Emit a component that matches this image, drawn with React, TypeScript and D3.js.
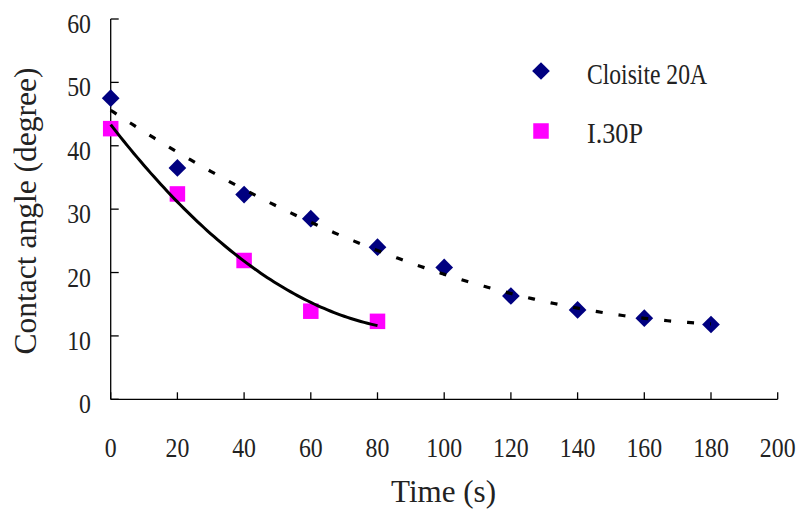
import React from "react";
import * as d3 from "d3";

// Contact angle measurements over time
const times = [0, 20, 40, 60, 80, 100, 120, 140, 160, 180];
const cloisite20A = [47.5, 36.5, 32.3, 28.5, 24.0, 20.8, 16.3, 14.1, 12.8, 11.8];
const i30pTimes = [0, 20, 40, 60, 80];
const i30P = [42.7, 32.4, 21.9, 13.9, 12.3];

const xTicks = [0, 20, 40, 60, 80, 100, 120, 140, 160, 180, 200];
const yTicks = [0, 10, 20, 30, 40, 50, 60];

const seriesNames = ["Cloisite 20A", "I.30P"];

const W = 800;
const H = 513;
const FONT = "'Liberation Serif', 'Times New Roman', serif";

// Least-squares second-order polynomial trendline
function quadFit(xs: number[], ys: number[]) {
  const n = xs.length;
  let s1 = 0, s2 = 0, s3 = 0, s4 = 0, t0 = 0, t1 = 0, t2 = 0;
  for (let i = 0; i < n; i++) {
    const x = xs[i], y = ys[i];
    s1 += x; s2 += x * x; s3 += x ** 3; s4 += x ** 4;
    t0 += y; t1 += x * y; t2 += x * x * y;
  }
  const M = [
    [n, s1, s2, t0],
    [s1, s2, s3, t1],
    [s2, s3, s4, t2],
  ];
  for (let c = 0; c < 3; c++) {
    let p = c;
    for (let r = c + 1; r < 3; r++) if (Math.abs(M[r][c]) > Math.abs(M[p][c])) p = r;
    [M[c], M[p]] = [M[p], M[c]];
    for (let r = 0; r < 3; r++) {
      if (r === c) continue;
      const f = M[r][c] / M[c][c];
      for (let k = c; k < 4; k++) M[r][k] -= f * M[c][k];
    }
  }
  const a = M[0][3] / M[0][0], b = M[1][3] / M[1][1], c = M[2][3] / M[2][2];
  return (x: number) => a + b * x + c * x * x;
}

export default function App() {
  const x = d3.scaleLinear().domain([0, 200]).range([110.7, 777.7]);
  const y = d3.scaleLinear().domain([0, 60]).range([399.3, 19]);

  const fitA = quadFit(times, cloisite20A);
  const fitB = quadFit(i30pTimes, i30P);
  const line = d3
    .line<number>()
    .x((t) => x(t))
    .curve(d3.curveLinear);

  const samplesA = d3.range(0, 180.01, 1);
  const samplesB = d3.range(0, 80.01, 1);
  const pathA = line.y((t) => y(fitA(t)))(samplesA) || "";
  const pathB = line.y((t) => y(fitB(t)))(samplesB) || "";

  const diamond = d3.symbol(d3.symbolDiamond2, 200)() || "";
  const sq = 15.5;

  return (
    <svg
      width={W}
      height={H}
      style={{ position: "absolute", left: 0, top: 0, background: "#fff" }}
      fontFamily={FONT}
    >
      <rect width={W} height={H} fill="#fff" />

      {/* axes */}
      <g stroke="#000" strokeWidth={1.3} fill="none">
        <line x1={x(0)} x2={x(0)} y1={y(60)} y2={y(0)} />
        <line x1={x(0)} x2={x(200)} y1={y(0)} y2={y(0)} />
        {yTicks.map((v) => (
          <line key={"yt" + v} x1={x(0)} x2={x(0) + 8} y1={y(v)} y2={y(v)} />
        ))}
        {xTicks.map((v) => (
          <line key={"xt" + v} x1={x(v)} x2={x(v)} y1={y(0)} y2={y(0) - 7} />
        ))}
      </g>

      {/* tick labels */}
      {yTicks.map((v) => (
        <text
          key={"yl" + v}
          transform={`translate(${91},${y(v) + 14}) scale(0.85,1)`}
          textAnchor="end"
          fontSize={28}
          fill="#222"
        >
          {v}
        </text>
      ))}
      {xTicks.map((v) => (
        <text
          key={"xl" + v}
          transform={`translate(${x(v)},${456.5}) scale(0.85,1)`}
          textAnchor="middle"
          fontSize={28}
          fill="#222"
        >
          {v}
        </text>
      ))}

      {/* axis titles */}
      <text
        x={443.5}
        y={502}
        textAnchor="middle"
        fontSize={32}
        textLength={105}
        lengthAdjust="spacingAndGlyphs"
        fill="#222"
      >
        Time (s)
      </text>
      <text
        transform={`translate(36,211) rotate(-90)`}
        textAnchor="middle"
        fontSize={32}
        textLength={287}
        lengthAdjust="spacingAndGlyphs"
        fill="#222"
      >
        Contact angle (degree)
      </text>

      {/* markers */}
      {times.map((t, i) => (
        <path
          key={"d" + i}
          d={diamond}
          transform={`translate(${x(t)},${y(cloisite20A[i])})`}
          fill="#000080"
        />
      ))}
      {i30pTimes.map((t, i) => (
        <rect
          key={"s" + i}
          x={x(t) - sq / 2}
          y={y(i30P[i]) - sq / 2}
          width={sq}
          height={sq}
          fill="#ff00ff"
        />
      ))}

      {/* trendlines */}
      <path d={pathA} fill="none" stroke="#000" strokeWidth={3.2} strokeDasharray="7,16" />
      <path d={pathB} fill="none" stroke="#000" strokeWidth={3} />

      {/* legend */}
      <path d={diamond} transform="translate(541,71)" fill="#000080" />
      <rect x={541 - sq / 2} y={131 - sq / 2} width={sq} height={sq} fill="#ff00ff" />
      <text
        x={587}
        y={83.5}
        fontSize={28.5}
        textLength={120}
        lengthAdjust="spacingAndGlyphs"
        fill="#222"
      >
        {seriesNames[0]}
      </text>
      <text
        x={587}
        y={142.5}
        fontSize={28.5}
        textLength={56}
        lengthAdjust="spacingAndGlyphs"
        fill="#222"
      >
        {seriesNames[1]}
      </text>
    </svg>
  );
}
